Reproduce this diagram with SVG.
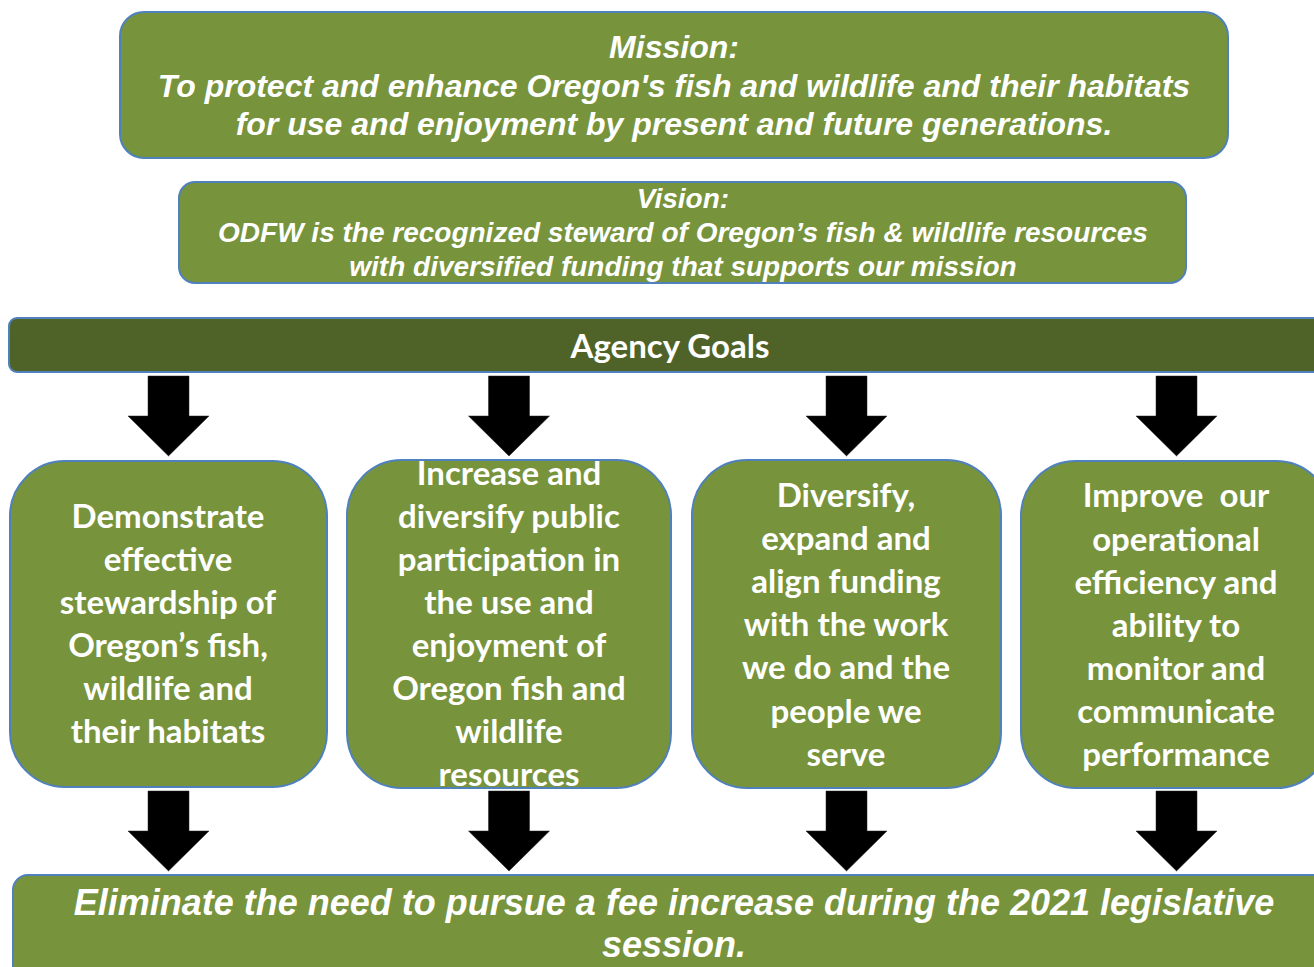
<svg xmlns="http://www.w3.org/2000/svg" width="1314" height="967" viewBox="0 0 1314 967">
<defs>
<style>
.box{fill:#77933C;stroke:#4F81BD;stroke-width:2}
.bar{fill:#4F6228;stroke:#4F81BD;stroke-width:2}
.it{font-family:"Liberation Sans",Arial,sans-serif;font-weight:bold;font-style:italic;fill:#fff;text-anchor:middle}
.gt{font-family:Lato,"Open Sans",sans-serif;font-weight:bold;fill:#fff;text-anchor:middle;font-size:33px}
.arr{fill:#000;stroke:#222;stroke-width:0.5}
</style>
<path id="arrow" d="M-20.5,0 H20.5 V40 H40.5 L0,80 L-40.5,40 H-20.5 Z"/>
</defs>
<rect width="1314" height="967" fill="#fff"/>
<g id="mission">
<rect class="box" x="120" y="12" width="1108" height="146" rx="24"/>
<text class="it" font-size="32" x="674"><tspan x="674" y="58">Mission:</tspan><tspan x="674" y="97">To protect and enhance Oregon's fish and wildlife and their habitats</tspan><tspan x="674" y="135">for use and enjoyment by present and future generations.</tspan></text>
</g>
<g id="vision">
<rect class="box" x="179" y="182" width="1007" height="101" rx="16"/>
<text class="it" font-size="28" x="683"><tspan x="683" y="208">Vision:</tspan><tspan x="683" y="242">ODFW is the recognized steward of Oregon’s fish &amp; wildlife resources</tspan><tspan x="683" y="276">with diversified funding that supports our mission</tspan></text>
</g>
<g id="agency-goals">
<rect class="bar" x="9" y="318" width="1320" height="54" rx="8"/>
<text class="gt" x="670" y="358">Agency Goals</text>
</g>
<g id="connectors">
<use href="#arrow" class="arr" x="168.5" y="376"/>
<use href="#arrow" class="arr" x="509" y="376"/>
<use href="#arrow" class="arr" x="846.5" y="376"/>
<use href="#arrow" class="arr" x="1176.5" y="376"/>
<use href="#arrow" class="arr" x="168.5" y="791"/>
<use href="#arrow" class="arr" x="509" y="791"/>
<use href="#arrow" class="arr" x="846.5" y="791"/>
<use href="#arrow" class="arr" x="1176.5" y="791"/>
</g>
<g id="goal1">
<rect class="box" x="10" y="461" width="317" height="326" rx="55"/>
<text class="gt"><tspan x="168" y="528">Demonstrate</tspan><tspan x="168" y="571">effective</tspan><tspan x="168" y="614">stewardship of</tspan><tspan x="168" y="657">Oregon’s fish,</tspan><tspan x="168" y="700">wildlife and</tspan><tspan x="168" y="743">their habitats</tspan></text>
</g>
<g id="goal2">
<rect class="box" x="347" y="460" width="324" height="328" rx="55"/>
<text class="gt"><tspan x="509" y="485">Increase and</tspan><tspan x="509" y="528">diversify public</tspan><tspan x="509" y="571">participation in</tspan><tspan x="509" y="614">the use and</tspan><tspan x="509" y="657">enjoyment of</tspan><tspan x="509" y="700">Oregon fish and</tspan><tspan x="509" y="743">wildlife</tspan><tspan x="509" y="786">resources</tspan></text>
</g>
<g id="goal3">
<rect class="box" x="692" y="460" width="309" height="328" rx="55"/>
<text class="gt"><tspan x="846" y="507">Diversify,</tspan><tspan x="846" y="550">expand and</tspan><tspan x="846" y="593">align funding</tspan><tspan x="846" y="636">with the work</tspan><tspan x="846" y="679">we do and the</tspan><tspan x="846" y="723">people we</tspan><tspan x="846" y="766">serve</tspan></text>
</g>
<g id="goal4">
<rect class="box" x="1021" y="461" width="310" height="327" rx="55"/>
<text class="gt" xml:space="preserve"><tspan x="1176" y="507">Improve  our</tspan><tspan x="1176" y="551">operational</tspan><tspan x="1176" y="594">efficiency and</tspan><tspan x="1176" y="637">ability to</tspan><tspan x="1176" y="680">monitor and</tspan><tspan x="1176" y="723">communicate</tspan><tspan x="1176" y="766">performance</tspan></text>
</g>
<g id="outcome">
<rect class="box" x="13" y="875" width="1320" height="110" rx="15"/>
<text class="it" font-size="36"><tspan x="674" y="915">Eliminate the need to pursue a fee increase during the 2021 legislative</tspan><tspan x="674" y="957">session.</tspan></text>
</g>
</svg>
